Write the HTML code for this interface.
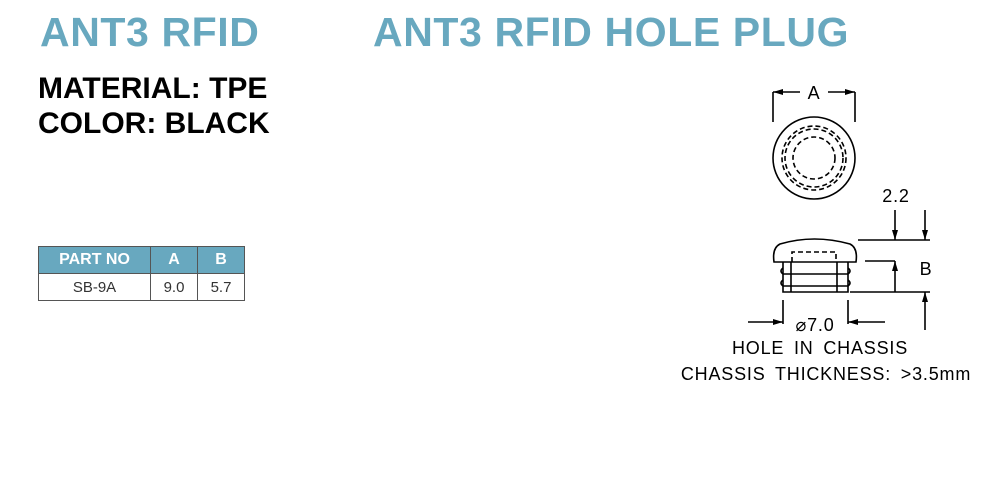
<!DOCTYPE html>
<html><head><meta charset="utf-8"><style>
body{margin:0;width:1000px;height:480px;background:#fff;position:relative;overflow:hidden;font-family:"Liberation Sans",sans-serif}
.t{position:absolute;color:#68a8bf;font-size:41px;font-weight:bold;top:7px;line-height:50px;letter-spacing:0.6px}
.m{position:absolute;left:38px;font-weight:bold;font-size:30px;color:#000;line-height:35px}
table{position:absolute;left:38px;top:246px;border-collapse:collapse;font-size:15px}
td{border:1px solid #555;text-align:center;height:26px;padding:0}
th{background:#68a8bf;color:#fff;border:1px solid #555;height:26px;padding:0;font-weight:bold;font-size:16px}
</style></head><body>
<div class="t" style="left:40px">ANT3 RFID</div>
<div class="t" style="left:373px">ANT3 RFID HOLE PLUG</div>
<div class="m" style="top:71px">MATERIAL: TPE</div>
<div class="m" style="top:106px">COLOR: BLACK</div>
<table><tr><th style="width:111px">PART NO</th><th style="width:46px">A</th><th style="width:46px">B</th></tr>
<tr><td style="color:#333">SB-9A</td><td style="color:#333">9.0</td><td style="color:#333">5.7</td></tr></table>
<svg width="1000" height="480" style="position:absolute;left:0;top:0" font-family="Liberation Sans,sans-serif">
<defs><marker id="a" viewBox="0 0 10 6" refX="10" refY="3" markerWidth="10" markerHeight="6" orient="auto" markerUnits="userSpaceOnUse"><path d="M0,0L10,3L0,6z" fill="#000"/></marker></defs>
<g stroke="#000" stroke-width="1.6" fill="none">
<circle cx="814" cy="158" r="41"/>
<circle cx="814" cy="158" r="32" stroke-dasharray="5,3"/>
<circle cx="814" cy="158" r="29" stroke-dasharray="5,3"/>
<circle cx="814" cy="158" r="21" stroke-dasharray="5,3"/>
<path d="M773,122V92M855,122V92"/>
<path d="M800,92H773" marker-end="url(#a)"/><path d="M828,92H855" marker-end="url(#a)"/>
<path d="M774,262 Q772,248 780,244 Q814,234 850,244 Q858,248 856,262 Z"/>
<path d="M783,262V292H848V262"/>
<path d="M783,268 q-4,3 0,6 h65 q4,-3 0,-6 M783,280 q-4,3 0,6 h65 q4,-3 0,-6"/>
<path d="M791,262V292M837,262V292"/>
<path d="M792,262V252H836V262" stroke-dasharray="5,3"/>
<path d="M858,240H930M865,261H895M850,292H930"/>
<path d="M895,210V240" marker-end="url(#a)"/><path d="M925,210V240" marker-end="url(#a)"/>
<path d="M895,292V261" marker-end="url(#a)"/><path d="M925,330V292" marker-end="url(#a)"/>
<path d="M783,300V324M848,300V324"/>
<path d="M748,322H783" marker-end="url(#a)"/><path d="M885,322H848" marker-end="url(#a)"/>
</g>
<g font-size="18" fill="#000" text-anchor="middle" letter-spacing="0.8">
<text x="814" y="99">A</text>
<text x="896" y="202">2.2</text>
<text x="926" y="275">B</text>
<text x="815" y="331">⌀7.0</text>
<text x="820" y="354" word-spacing="4">HOLE IN CHASSIS</text>
<text x="826" y="380" word-spacing="4">CHASSIS THICKNESS: &gt;3.5mm</text>
</g>
</svg>
</body></html>
